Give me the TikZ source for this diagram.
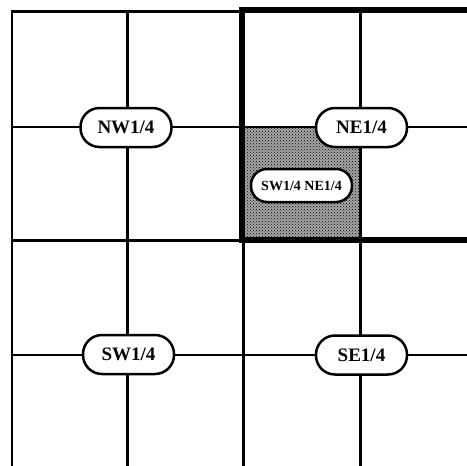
\documentclass[tikz,border=0pt]{standalone}
\usepackage{fontspec}
\setmainfont{Liberation Serif}
\usetikzlibrary{patterns}

\begin{document}
\begin{tikzpicture}[x=1pt, y=-1pt,
    thinline/.style={line width=2.5pt},
    thickline/.style={line width=6pt},
    quarter/.style={rectangle, rounded corners=19pt, minimum width=91pt, minimum height=39pt, draw=black, line width=2.5pt, fill=white, font=\fontsize{19}{19}\selectfont\bfseries},
    subquarter/.style={rectangle, rounded corners=16pt, minimum width=101pt, minimum height=33pt, draw=black, line width=2.5pt, fill=white, font=\fontsize{14}{14}\selectfont\bfseries}]
    \useasboundingbox (0,0) rectangle (467,466);

    % shaded quarter-quarter
    \fill [black!35] (243,127) rectangle (360,240);
    \fill [pattern=crosshatch dots] (243,127) rectangle (360,240);

    % thin section lines
    \draw [thinline] (12,466) -- (12,11.5) -- (243,11.5);
    \draw [thinline] (127.5,11.5) -- (127.5,466);
    \draw [thinline] (360.5,10) -- (360.5,466);
    \draw [thinline] (243.5,240) -- (243.5,466);
    \draw [thinline] (12,127) -- (467,127);
    \draw [thinline] (12,240.5) -- (243,240.5);
    \draw [thinline] (12,355) -- (467,355);

    % thick outline of the quarter
    \draw [thickline] (467,10) -- (242,10) -- (242,243);
    \draw [thickline] (242,240.3) -- (467,240.3);

    % labels
    \node [quarter] (nw) at (126,127.5) {NW1/4};
    \node [quarter] (ne) at (361.5,127.5) {NE1/4};
    \node [quarter] (sw) at (128.5,354.5) {SW1/4};
    \node [quarter] (se) at (361.5,355) {SE1/4};
    \node [subquarter] (swne) at (301.5,185.5) {SW1/4 NE1/4};
\end{tikzpicture}
\end{document}
